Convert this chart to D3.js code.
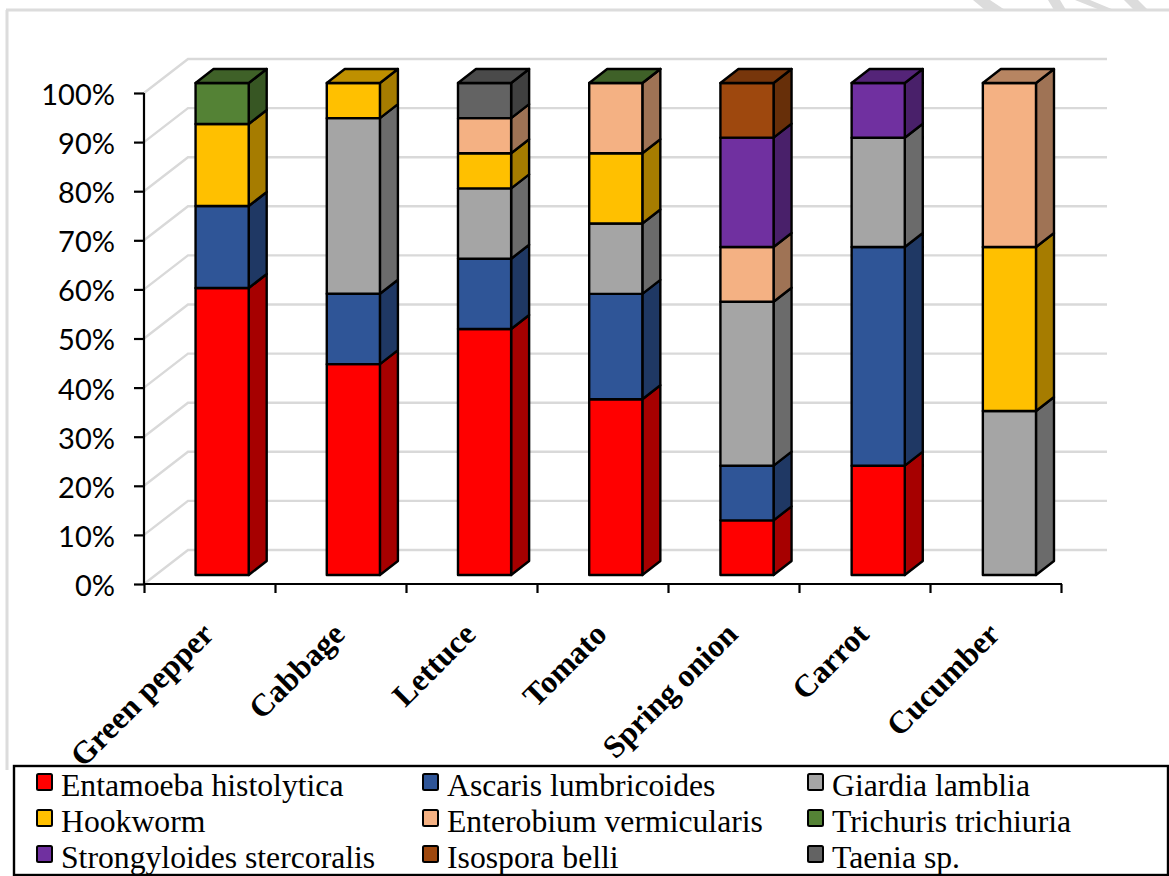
<!DOCTYPE html>
<html><head><meta charset="utf-8">
<script src="https://cdnjs.cloudflare.com/ajax/libs/d3/7.8.5/d3.min.js"></script>
<style>html,body{margin:0;padding:0;background:#fff;overflow:hidden}svg{display:block}</style>
</head><body><svg id="c" width="1169" height="876"></svg>
<script>
const categories = ["Green pepper","Cabbage","Lettuce","Tomato","Spring onion","Carrot","Cucumber"];
const seriesNames = ["Entamoeba histolytica","Ascaris lumbricoides","Giardia lamblia","Hookworm","Enterobium vermicularis","Trichuris trichiuria","Strongyloides stercoralis","Isospora belli","Taenia sp."];
const entamoeba = [58.33,42.86,50,35.71,11.11,22.22,null];
const ascaris = [16.67,14.29,14.29,21.43,11.11,44.44,null];
const giardia = [null,35.71,14.29,14.29,33.33,22.22,33.33];
const hookworm = [16.67,7.14,7.14,14.29,null,null,33.33];
const enterobium = [null,null,7.14,14.28,11.11,null,33.34];
const trichuris = [8.33,null,null,0,null,null,null];
const strongyloides = [null,null,null,null,22.23,11.12,null];
const isospora = [null,null,null,null,11.11,null,null];
const taenia = [null,null,7.14,null,null,null,null];
const seriesValues = [entamoeba,ascaris,giardia,hookworm,enterobium,trichuris,strongyloides,isospora,taenia];
const frontColors = ["#FF0000","#2F5597","#A5A5A5","#FFC000","#F4B183","#548235","#7030A0","#9E480E","#636363"];
const sideColors  = ["#A60000","#1F3864","#6B6B6B","#A67C00","#9F7355","#375623","#49206A","#672F09","#404040"];
const topColors   = ["#BF0000","#234071","#7C7C7C","#BF9000","#B78562","#3F6128","#542478","#77360B","#4A4A4A"];
const pctTicks = [0,10,20,30,40,50,60,70,80,90,100];

const svg = d3.select("#c");
const SERIF = "'Liberation Serif','Times New Roman',serif";
const left=144, right=1061, axisBottom=584, axisTop=93;
const depth={x:18,y:-14}, wall={x:44,y:-34};
const axisY = d3.scaleLinear().domain([0,100]).range([axisBottom,axisTop]);
const barY = d3.scaleLinear().domain([0,100]).range([575,83]);
const x = d3.scaleBand().domain(categories).range([left+0.5,right+2]).paddingInner(0.595).paddingOuter(0.2975).align(0.654);
const tickX = d3.scaleBand().domain(categories).range([left,right]);

// page frame
const deco = svg.append("g");
deco.append("line").attr("x1",7).attr("x2",7).attr("y1",10).attr("y2",770).attr("stroke","#dcdcdc").attr("stroke-width",3);
deco.append("line").attr("x1",6).attr("x2",1169).attr("y1",10).attr("y2",10).attr("stroke","#dcdcdc").attr("stroke-width",3);
[[973,0,990,0,1005,10,985,10],[1048,0,1060,0,1066,10,1054,10],[1075,0,1090,0,1114,10,1100,10],[1124,0,1138,0,1148,10,1134,10]]
 .forEach(p=>deco.append("polygon").attr("points",`${p[0]},${p[1]} ${p[2]},${p[3]} ${p[4]},${p[5]} ${p[6]},${p[7]}`).attr("fill","#dcdcdc"));

// gridlines
const grid = svg.append("g").attr("stroke","#d9d9d9").attr("stroke-width",2.4).attr("fill","none");
pctTicks.forEach(t=>{
  grid.append("path").attr("d",d3.line()([[left,axisY(t)],[left+wall.x,axisY(t)+wall.y],[right+wall.x+2,axisY(t)+wall.y]]));
});

// bars
const bars = svg.append("g").attr("stroke","#000").attr("stroke-width",2.4).attr("stroke-linejoin","round");
categories.forEach((c,i)=>{
  let cum=0;
  const segs=[];
  seriesValues.forEach((vals,s)=>{
    if(vals[i]===null) return;
    segs.push({s,y0:cum,y1:cum+vals[i]});
    cum+=vals[i];
  });
  const x0=x(c), x1=x0+x.bandwidth();
  segs.forEach(d=>{
    const yb=barY(d.y0), yt=barY(d.y1);
    bars.append("polygon").attr("fill",sideColors[d.s])
      .attr("points",[[x1,yb],[x1+depth.x,yb+depth.y],[x1+depth.x,yt+depth.y],[x1,yt]].join(" "));
    bars.append("rect").attr("x",x0).attr("y",yt).attr("width",x1-x0).attr("height",yb-yt).attr("fill",frontColors[d.s]);
  });
  const last=segs[segs.length-1], yt=barY(last.y1);
  bars.append("polygon").attr("fill",topColors[last.s])
    .attr("points",[[x0,yt],[x0+depth.x,yt+depth.y],[x1+depth.x,yt+depth.y],[x1,yt]].join(" "));
});

// axes
const yAxis = svg.append("g").attr("transform",`translate(${left},0)`)
  .call(d3.axisLeft(axisY).tickValues(pctTicks).tickFormat(d=>d+"%").tickSize(10).tickPadding(19));
yAxis.selectAll("path,line").attr("stroke","#000").attr("stroke-width",2.2);
yAxis.select(".domain").attr("d",`M0,${axisTop}V${axisBottom}`);
yAxis.selectAll("text").attr("font-family","Lato,Carlito,sans-serif").attr("font-size",29).attr("fill","#000").attr("dy","0.36em").attr("y",1);

const xAxis = svg.append("g").attr("transform",`translate(0,${axisBottom})`)
  .call(d3.axisBottom(d3.scalePoint().domain(d3.range(categories.length+1)).range([left,right])).tickSize(9).tickFormat(""));
xAxis.selectAll("path,line").attr("stroke","#000").attr("stroke-width",2.2);
xAxis.select(".domain").attr("d",`M${left},0H${right+1}`);

// category labels
svg.append("g").selectAll("text").data(categories).join("text")
  .attr("transform",d=>`translate(${tickX(d)+tickX.bandwidth()/2+6},636) rotate(-45)`)
  .attr("text-anchor","end")
  .attr("font-family",SERIF).attr("font-weight","bold").attr("font-size",31.7).attr("fill","#000")
  .text(d=>d);

// legend
const lg = svg.append("g");
lg.append("rect").attr("x",14).attr("y",766).attr("width",1154).attr("height",109).attr("fill","#fff").attr("stroke","#000").attr("stroke-width",2.4);
const colX=[37,423,808], rowY=[796,832,868];
seriesNames.forEach((n,i)=>{
  const cx=colX[i%3], ry=rowY[Math.floor(i/3)];
  lg.append("rect").attr("x",cx).attr("y",ry-22).attr("width",15).attr("height",16).attr("rx",1.5).attr("fill",frontColors[i]).attr("stroke","#000").attr("stroke-width",2);
  lg.append("text").attr("x",cx+24).attr("y",ry).attr("font-family",SERIF).attr("font-size",31.7).attr("fill","#000").text(n);
});
</script></body></html>
